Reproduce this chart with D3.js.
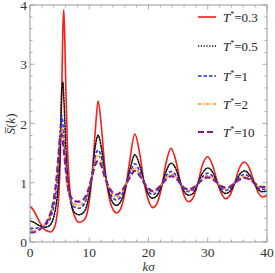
<!DOCTYPE html>
<html><head><meta charset="utf-8">
<script src="https://cdn.jsdelivr.net/npm/d3@7/dist/d3.min.js"></script>
<style>body{margin:0;background:#fff}svg{display:block}</style>
</head><body>
<svg id="c" width="275" height="273"></svg>
<script>
const K = [0,0.5,1,1.5,2,2.5,3,3.5,4,4.4,4.8,5.1,5.35,5.55,5.7,5.85,6.05,6.3,6.6,7,7.5,8.3,9.2,9.9,10.5,11,11.5,12,12.6,13.3,14,14.6,15.3,16,16.8,17.7,18.5,19.3,20,20.7,21.4,22.2,23,23.8,24.6,25.4,26.1,26.8,27.5,28.3,29.1,30,30.8,31.6,32.3,33,33.7,34.5,35.3,36.2,37,37.8,38.5,39.2,40];
const sT03 = [0.60,0.55,0.46,0.36,0.27,0.21,0.18,0.17,0.22,0.35,0.70,1.35,2.5,3.6,3.92,3.5,2.6,1.65,1.05,0.65,0.44,0.33,0.38,0.62,1.15,1.85,2.38,2.0,1.3,0.78,0.55,0.49,0.56,0.82,1.35,1.82,1.5,0.98,0.7,0.58,0.64,0.92,1.35,1.58,1.38,1.0,0.76,0.68,0.74,0.98,1.3,1.44,1.3,1.02,0.82,0.73,0.78,0.98,1.24,1.35,1.25,1.02,0.84,0.76,0.78];
const sT05 = [0.35,0.34,0.31,0.28,0.26,0.25,0.26,0.3,0.42,0.62,1.0,1.6,2.55,2.7,2.45,2.1,1.6,1.15,0.85,0.62,0.5,0.46,0.52,0.75,1.15,1.6,1.8,1.62,1.2,0.85,0.66,0.62,0.68,0.87,1.2,1.47,1.3,1.0,0.8,0.74,0.78,0.95,1.2,1.33,1.24,1.0,0.84,0.79,0.82,0.98,1.16,1.25,1.18,1.0,0.87,0.82,0.85,0.98,1.13,1.2,1.14,1.0,0.89,0.85,0.86];
const sT1 = [0.23,0.23,0.23,0.24,0.25,0.28,0.33,0.42,0.6,0.85,1.3,1.9,2.14,2.0,1.8,1.55,1.3,1.0,0.8,0.66,0.59,0.57,0.65,0.85,1.15,1.45,1.55,1.45,1.15,0.9,0.74,0.71,0.76,0.92,1.15,1.32,1.2,1.0,0.85,0.8,0.84,0.97,1.12,1.19,1.13,0.98,0.88,0.85,0.88,0.98,1.1,1.16,1.11,1.0,0.91,0.87,0.9,0.99,1.09,1.14,1.1,1.0,0.92,0.89,0.9];
const sT2 = [0.19,0.19,0.2,0.22,0.25,0.29,0.36,0.48,0.68,0.95,1.4,1.75,1.92,1.85,1.7,1.5,1.25,0.98,0.8,0.69,0.64,0.62,0.69,0.88,1.15,1.38,1.46,1.37,1.12,0.92,0.8,0.76,0.8,0.93,1.1,1.25,1.15,0.99,0.88,0.84,0.87,0.97,1.08,1.14,1.1,0.98,0.9,0.87,0.9,0.98,1.07,1.12,1.08,1.0,0.93,0.9,0.92,0.99,1.06,1.1,1.07,1.0,0.94,0.91,0.92];
const sT10 = [0.16,0.16,0.18,0.2,0.24,0.29,0.37,0.5,0.72,1.0,1.45,1.78,1.82,1.7,1.55,1.4,1.2,0.98,0.83,0.74,0.69,0.68,0.74,0.9,1.12,1.3,1.37,1.3,1.1,0.93,0.83,0.8,0.84,0.94,1.08,1.2,1.12,0.99,0.9,0.86,0.89,0.97,1.06,1.11,1.08,0.98,0.91,0.89,0.91,0.98,1.05,1.09,1.06,1.0,0.94,0.92,0.93,0.99,1.05,1.08,1.06,1.0,0.95,0.93,0.93];
const seriesNames = ["0.3","0.5","1","2","10"];
const xTicks = [0,10,20,30,40];
const yTicks = [0,1,2,3,4];

const styles = [
  {c:"#ff1a1a", w:1.6, d:null},
  {c:"#111", w:1.6, d:"1.2,1.6"},
  {c:"#1f2fff", w:1.6, d:"3.5,2"},
  {c:"#ff8c00", w:1.6, d:"3.5,1.5,1.2,1.5"},
  {c:"#7f1f8f", w:2.2, d:"6,3"}
];
const data = [sT03,sT05,sT1,sT2,sT10];

const svg = d3.select("#c");
const L=30,R=267,T=5,B=242;
const x = d3.scaleLinear().domain([0,40]).range([L,R]);
const y = d3.scaleLinear().domain([0,4]).range([B,T]);
const font = "Liberation Serif, Tinos, Times New Roman, DejaVu Serif, serif";

svg.append("clipPath").attr("id","cp").append("rect").attr("x",L).attr("y",T).attr("width",R-L).attr("height",B-T);

const line = d3.line().x((d,i)=>x(K[i])).y(d=>y(d)).curve(d3.curveMonotoneX);
const g = svg.append("g").attr("clip-path","url(#cp)");
data.forEach((s,i)=>{
  g.append("path").attr("d",line(s)).attr("fill","none")
   .attr("stroke",styles[i].c).attr("stroke-width",styles[i].w)
   .attr("stroke-dasharray",styles[i].d).attr("stroke-linecap", i===1?"round":"butt");
});

svg.append("rect").attr("x",L).attr("y",T).attr("width",R-L).attr("height",B-T)
  .attr("fill","none").attr("stroke","#999").attr("stroke-width",1);

const tk = svg.append("g").attr("stroke","#999").attr("stroke-width",0.8);
d3.range(0,40.001,2).forEach(v=>{
  const len = (v%10===0)?4.5:2.5;
  tk.append("line").attr("x1",x(v)).attr("x2",x(v)).attr("y1",B).attr("y2",B-len);
  tk.append("line").attr("x1",x(v)).attr("x2",x(v)).attr("y1",T).attr("y2",T+len);
});
d3.range(0,4.001,0.2).forEach(v=>{
  const len = (Math.abs(v-Math.round(v))<1e-6)?4.5:2.5;
  tk.append("line").attr("y1",y(v)).attr("y2",y(v)).attr("x1",L).attr("x2",L+len);
  tk.append("line").attr("y1",y(v)).attr("y2",y(v)).attr("x1",R).attr("x2",R-len);
});

xTicks.forEach(v=>{
  svg.append("text").attr("x",x(v)).attr("y",B+15).attr("text-anchor","middle")
    .attr("font-family",font).attr("font-size",13.5).attr("fill","#333").text(v);
});
yTicks.forEach(v=>{
  svg.append("text").attr("x",L-3).attr("y",y(v)+5).attr("text-anchor","end")
    .attr("font-family",font).attr("font-size",13.5).attr("fill","#333").text(v);
});

svg.append("text").attr("x",x(20)).attr("y",271).attr("text-anchor","middle")
  .attr("font-family",font).attr("font-size",13).attr("font-style","italic").attr("fill","#333").text("kσ");

const yl = svg.append("text").attr("transform","translate(15,124) rotate(-90)").attr("text-anchor","middle")
  .attr("font-family",font).attr("font-size",13).attr("fill","#333");
yl.append("tspan").attr("font-style","italic").text("S\u0305");
yl.append("tspan").text("(");
yl.append("tspan").attr("font-style","italic").text("k");
yl.append("tspan").text(")");

const legY = [17,46,76,104,132];
seriesNames.forEach((n,i)=>{
  svg.append("line").attr("x1",198).attr("x2",216).attr("y1",legY[i]).attr("y2",legY[i])
    .attr("stroke",styles[i].c).attr("stroke-width",styles[i].w).attr("stroke-dasharray",styles[i].d);
  const t = svg.append("text").attr("x",223).attr("y",legY[i]+5)
    .attr("font-family",font).attr("font-size",13).attr("fill","#222");
  t.append("tspan").attr("font-style","italic").text("T");
  t.append("tspan").attr("font-size",8).attr("dy",-5).text("*");
  t.append("tspan").attr("dy",5).text("=" + n);
});
</script>
</body></html>
